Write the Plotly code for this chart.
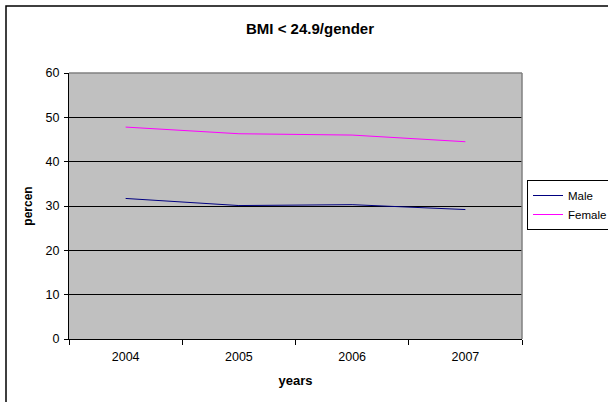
import plotly.graph_objects as go

years = ["2004", "2005", "2006", "2007"]
male = [31.7, 30.1, 30.3, 29.2]
female = [47.8, 46.3, 46.0, 44.5]
y_ticks = [0, 10, 20, 30, 40, 50, 60]

FONT = "Arial, Liberation Sans, sans-serif"
W, H = 608, 402
L, R, T, B = 69, 86, 73, 63
PW = W - L - R
PH = H - T - B

fig = go.Figure()
fig.add_trace(go.Scatter(x=years, y=male, mode="lines", name="Male",
                         line=dict(color="#000080", width=1)))
fig.add_trace(go.Scatter(x=years, y=female, mode="lines", name="Female",
                         line=dict(color="#FF00FF", width=1)))

# outer chart border (extends past the right and bottom of the image)
fig.add_shape(type="rect", xref="paper", yref="paper",
              x0=(6 - L) / PW, x1=2.0, y0=-1.0, y1=(H - B - 6) / PH,
              line=dict(color="#000000", width=1.5), layer="below")
# plot area top / right border (gray)
fig.add_shape(type="line", xref="paper", yref="paper", x0=0, x1=1, y0=1, y1=1,
              line=dict(color="#808080", width=1.5))
fig.add_shape(type="line", xref="paper", yref="paper", x0=1, x1=1, y0=0, y1=1,
              line=dict(color="#808080", width=1.5))

fig.update_layout(
    width=W, height=H,
    margin=dict(l=L, r=R, t=T, b=B, autoexpand=False),
    paper_bgcolor="white",
    plot_bgcolor="#C0C0C0",
    font=dict(family=FONT, color="black", size=12),
    title=dict(text="<b>BMI < 24.9/gender</b>", x=310 / W, xanchor="center",
               xref="container", y=1 - 29 / H, yanchor="middle", yref="container",
               font=dict(size=15, family=FONT, color="black")),
    showlegend=True,
    legend=dict(x=(527 - L) / PW, xanchor="left", y=(H - B - 205) / PH, yanchor="middle",
                bgcolor="white", bordercolor="#000000", borderwidth=1,
                font=dict(size=11.5, family=FONT, color="black")),
    xaxis=dict(type="category", range=[-0.5, 3.5], tickson="boundaries",
               ticks="outside", ticklen=5, tickcolor="black", tickwidth=1,
               ticklabelstandoff=6,
               showline=True, linecolor="black", linewidth=1, showgrid=False,
               tickfont=dict(size=12.5, family=FONT, color="black"),
               title=dict(text="<b>years</b>", standoff=12,
                          font=dict(size=13, family=FONT, color="black"))),
    yaxis=dict(range=[0, 60], tickvals=y_ticks, ticks="outside", ticklen=4,
               tickcolor="black", tickwidth=1, showline=True, linecolor="black",
               linewidth=1, showgrid=True, gridcolor="black", gridwidth=1,
               zeroline=False, ticklabelstandoff=2,
               tickfont=dict(size=12.5, family=FONT, color="black"),
               title=dict(text="<b>percen</b>", standoff=10,
                          font=dict(size=12, family=FONT, color="black"))),
)

fig.write_html("out.html")
